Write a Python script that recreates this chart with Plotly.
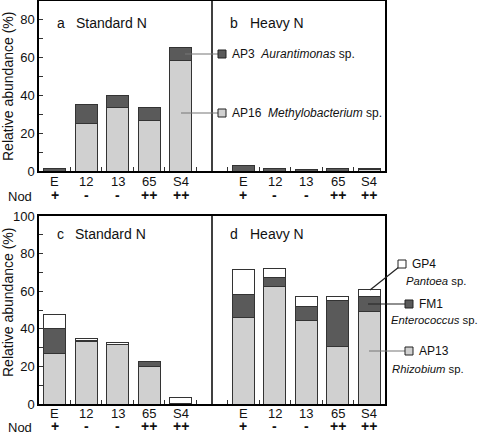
import plotly.graph_objects as go

categories = ["E", "12", "13", "65", "S4"]
nod = ["+", "-", "-", "++", "++"]

# top panels (a: Standard N, b: Heavy N)
a_ap16 = [0.0, 25.0, 33.7, 26.6, 58.4]
a_ap3 = [1.5, 10.3, 6.3, 6.9, 6.8]
b_ap16 = [0.0, 0.0, 0.0, 0.0, 0.9]
b_ap3 = [3.0, 1.4, 0.8, 1.4, 0.3]

# bottom panels (c: Standard N, d: Heavy N)
c_ap13 = [26.6, 33.3, 31.4, 20.0, 0.0]
c_fm1 = [13.3, 0.4, 0.3, 2.7, 0.5]
c_gp4 = [7.9, 1.2, 1.1, 0.0, 3.1]
d_ap13 = [46.0, 62.5, 44.6, 30.7, 49.0]
d_fm1 = [12.5, 5.0, 7.0, 24.1, 8.4]
d_gp4 = [13.2, 4.8, 5.6, 2.6, 3.7]

LIGHT = "#d0d0d0"
DARK = "#5a5a5a"
WHITE = "#ffffff"
EDGE = "#333333"
FONT = "Liberation Sans, Arial, sans-serif"

pos_left = [i for i in range(len(categories))]
pos_right = [i + 6 for i in range(len(categories))]
xpos = pos_left + pos_right
xlabels = categories + categories

W, H = 480, 432
ML, MR, MT, MB = 39, 95, 1, 28
PW = W - ML - MR
PH = H - MT - MB


def px(xp):
    return (xp - ML) / PW


def py(yp):
    return (H - MB - yp) / PH


fig = go.Figure()


def add_bar(vals_l, vals_r, color, xa, ya):
    fig.add_trace(go.Bar(
        x=xpos, y=vals_l + vals_r, xaxis=xa, yaxis=ya, width=0.7,
        marker=dict(color=color, line=dict(color=EDGE, width=1)),
        showlegend=False, hoverinfo="y"))


add_bar(a_ap16, b_ap16, LIGHT, "x", "y")
add_bar(a_ap3, b_ap3, DARK, "x", "y")
add_bar(c_ap13, d_ap13, LIGHT, "x2", "y2")
add_bar(c_fm1, d_fm1, DARK, "x2", "y2")
add_bar(c_gp4, d_gp4, WHITE, "x2", "y2")

top_dom = [py(171), 1.0]
bot_dom = [0.0, py(216)]

xcommon = dict(range=[-0.5, 10.5], tickmode="array", tickvals=xpos, ticktext=xlabels,
               showticklabels=False,
               ticks="", showline=True, linecolor="black", linewidth=1.5, mirror=True,
               automargin=False,
               minor=dict(tickmode="array", tickvals=[i + 0.5 for i in range(10)],
                          ticks="inside", ticklen=4, tickcolor="#333"),
               showgrid=False, zeroline=False, domain=[0, 1])
ycommon = dict(showline=True, linecolor="black", linewidth=1.5, mirror=True,
               ticks="inside", ticklen=4, tickcolor="#333", dtick=20, automargin=False,
               minor=dict(dtick=10, ticks="inside", ticklen=4, tickcolor="#333"),
               tickfont=dict(family=FONT, size=13, color="#111"),
               showgrid=False, zeroline=False)

fig.update_layout(
    width=W, height=H, margin=dict(l=ML, r=MR, t=MT, b=MB, autoexpand=False),
    paper_bgcolor="white", plot_bgcolor="white", barmode="stack",
    xaxis=dict(xcommon, anchor="y"),
    yaxis=dict(ycommon, domain=top_dom, range=[0, 90], anchor="x"),
    xaxis2=dict(xcommon, anchor="y2"),
    yaxis2=dict(ycommon, domain=bot_dom, range=[0, 100], anchor="x2"),
)

shapes = []
annos = []
# dividers
shapes.append(dict(type="line", xref="x", yref="y domain", x0=5, x1=5, y0=0, y1=1,
                   line=dict(color="black", width=1.5)))
shapes.append(dict(type="line", xref="x2", yref="y2 domain", x0=5, x1=5, y0=0, y1=1,
                   line=dict(color="black", width=1.5)))

# panel titles
for letter, title, xl, xt, yp in [("a", "Standard N", 55, 74, 23), ("b", "Heavy N", 228, 248, 23),
                                  ("c", "Standard N", 55, 73, 234), ("d", "Heavy N", 228, 248, 234)]:
    annos.append(dict(text=letter, x=px(xl), y=py(yp), xref="paper", yref="paper", xanchor="left",
                      yanchor="middle", showarrow=False, font=dict(family=FONT, size=14, color="#111")))
    annos.append(dict(text=title, x=px(xt), y=py(yp), xref="paper", yref="paper", xanchor="left",
                      yanchor="middle", showarrow=False, font=dict(family=FONT, size=14, color="#111")))

# y titles
for yc in [87, 303]:
    annos.append(dict(text="Relative abundance (%)", x=px(8), y=py(yc), xref="paper", yref="paper",
                      textangle=-90, showarrow=False, xanchor="center", yanchor="middle",
                      font=dict(family=FONT, size=14, color="#111")))

# category labels and Nod rows
for xa, yl, yn in [("x", 181, 195), ("x2", 413, 426)]:
    annos.append(dict(text="Nod", x=px(20), y=py(yn + 1), xref="paper", yref="paper", showarrow=False,
                      xanchor="center", yanchor="middle", font=dict(family=FONT, size=13, color="#111")))
    for xv, lab, s in zip(xpos, xlabels, nod + nod):
        annos.append(dict(text=lab, x=xv, y=py(yl), xref=xa, yref="paper",
                          showarrow=False, xanchor="center", yanchor="middle",
                          font=dict(family=FONT, size=13, color="#111")))
        annos.append(dict(text="<b>" + s + "</b>", x=xv, y=py(yn), xref=xa, yref="paper",
                          showarrow=False, xanchor="center", yanchor="middle",
                          font=dict(family=FONT, size=14, color="#111")))


def legend_item(x0, y0, x1, y1, sqx, sqy, color, lc="#777"):
    shapes.append(dict(type="line", xref="paper", yref="paper", x0=px(x0), y0=py(y0),
                       x1=px(x1), y1=py(y1), line=dict(color=lc, width=1.2)))
    shapes.append(dict(type="rect", xref="paper", yref="paper", x0=px(sqx - 4), x1=px(sqx + 4),
                       y0=py(sqy + 4), y1=py(sqy - 4), fillcolor=color,
                       line=dict(color="#222", width=1)))


def label(text, xp, yp, size=12):
    annos.append(dict(text=text, x=px(xp), y=py(yp), xref="paper", yref="paper", showarrow=False,
                      xanchor="left", yanchor="middle", font=dict(family=FONT, size=size, color="#111")))


legend_item(185, 54, 218, 54, 222, 54, DARK)
label("AP3  <i>Aurantimonas</i> sp.", 230, 54)
legend_item(181, 113, 218, 113, 222, 113, LIGHT)
label("AP16  <i>Methylobacterium</i> sp.", 230, 113)

legend_item(370, 290, 399, 267, 402, 264, WHITE, lc="#222")
label("GP4", 410, 264)
label("<i>Pantoea</i> sp.", 404, 281, 11.3)
legend_item(368, 304, 405, 304, 409, 304, DARK, lc="#222")
label("FM1", 417, 304)
label("<i>Enterococcus</i> sp.", 389, 320, 11.3)
legend_item(369, 351, 405, 351, 409, 351, LIGHT)
label("AP13", 417, 351)
label("<i>Rhizobium</i> sp.", 390, 369, 11.3)

fig.update_layout(shapes=shapes, annotations=annos)
fig.write_html("out.html", config={"displayModeBar": False},
               post_script="document.body.style.margin='0';document.body.style.overflow='hidden';")
